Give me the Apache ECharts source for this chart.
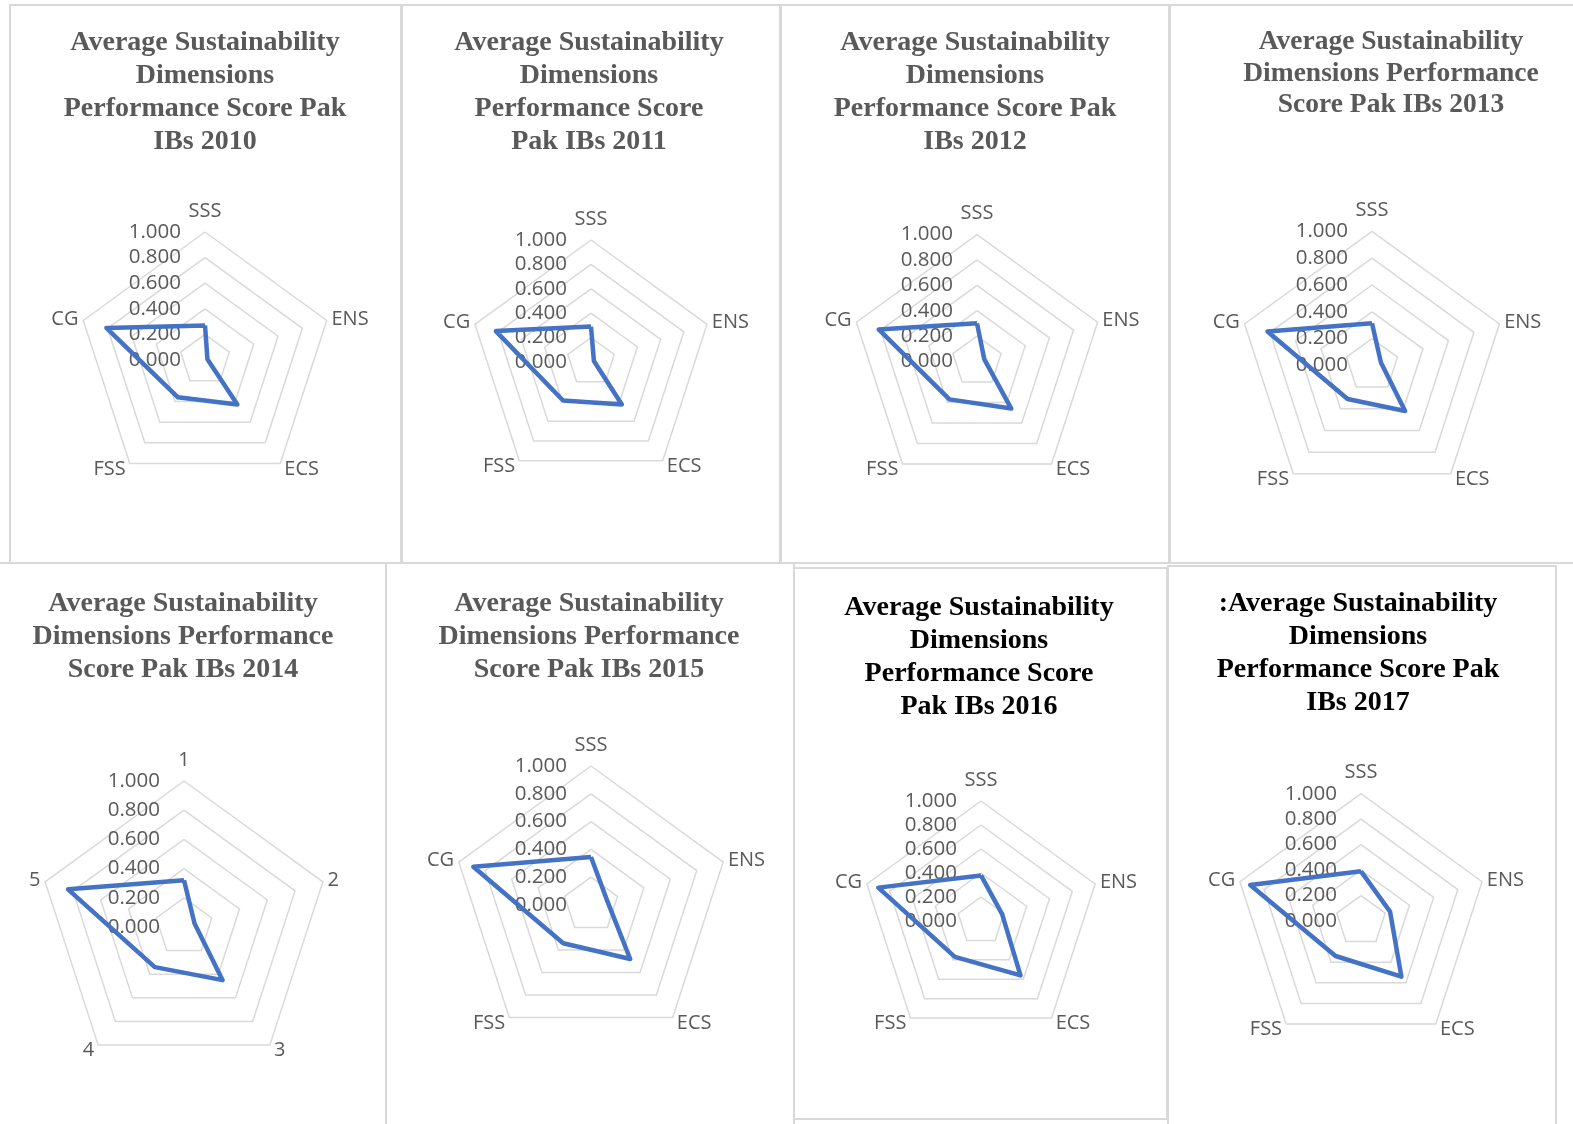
<!DOCTYPE html>
<html><head><meta charset="utf-8">
<script src="https://cdn.jsdelivr.net/npm/echarts@6/dist/echarts.min.js"></script>
<style>
html,body{margin:0;padding:0;background:#fff;width:1573px;height:1124px;overflow:hidden;position:relative}
.box{position:absolute;border:2px solid #d9d9d9;box-sizing:border-box}
.chart{position:absolute;width:400px;height:560px}
</style></head><body>
<script>
// ---- data ----
const categories = ['SSS', 'ENS', 'ECS', 'FSS', 'CG'];
const categories2014 = ['1', '2', '3', '4', '5'];
const years = ['2010', '2011', '2012', '2013', '2014', '2015', '2016', '2017'];
const tickLabels = ['0.000', '0.200', '0.400', '0.600', '0.800', '1.000'];
const titles = [
  'Average Sustainability\nDimensions\nPerformance Score Pak\nIBs 2010',
  'Average Sustainability\nDimensions\nPerformance Score\nPak IBs 2011',
  'Average Sustainability\nDimensions\nPerformance Score Pak\nIBs 2012',
  'Average Sustainability\nDimensions Performance\nScore Pak IBs 2013',
  'Average Sustainability\nDimensions Performance\nScore Pak IBs 2014',
  'Average Sustainability\nDimensions Performance\nScore Pak IBs 2015',
  'Average Sustainability\nDimensions\nPerformance Score\nPak IBs 2016',
  ':Average Sustainability\nDimensions\nPerformance Score Pak\nIBs 2017'
];
// values in order SSS, ENS, ECS, FSS, CG
const v2010 = [0.27, 0.02, 0.43, 0.36, 0.81];
const v2011 = [0.29, 0.025, 0.43, 0.39, 0.82];
const v2012 = [0.30, 0.06, 0.46, 0.37, 0.815];
const v2013 = [0.315, 0.07, 0.42, 0.31, 0.82];
const v2014 = [0.32, 0.076, 0.45, 0.34, 0.835];
const v2015 = [0.345, 0.12, 0.48, 0.34, 0.89];
const v2016 = [0.38, 0.185, 0.56, 0.37, 0.90];
const v2017 = [0.39, 0.24, 0.54, 0.34, 0.915];
const seriesValues = [v2010, v2011, v2012, v2013, v2014, v2015, v2016, v2017];

// ---- layout (positions/styles) ----
const boxes = [
  [9, 4, 393, 560], [401, 4, 380, 560], [780, 4, 390, 560], [1169, 4, 420, 560],
  [-5, 562, 392, 600], [385, 562, 410, 600], [793, 567, 375, 553], [1167, 565, 390, 600]
];
const layout = [
  {cx: 205, cy: 360, r: 128, tx: 205, ty: 43, lh: 33, fs: 28, color: '#595959'},
  {cx: 591, cy: 362, r: 122, tx: 589, ty: 43, lh: 33, fs: 28, color: '#595959'},
  {cx: 977, cy: 361.4, r: 126.8, tx: 975, ty: 43, lh: 33, fs: 28, color: '#595959'},
  {cx: 1372, cy: 365.4, r: 134, tx: 1391, ty: 42, lh: 31.5, fs: 27.5, color: '#595959'},
  {cx: 184, cy: 927, r: 146, tx: 183, ty: 603.5, lh: 33, fs: 28, color: '#595959'},
  {cx: 591, cy: 905, r: 139, tx: 589, ty: 603.5, lh: 33, fs: 28, color: '#595959'},
  {cx: 981, cy: 921, r: 120, tx: 979, ty: 607.5, lh: 33, fs: 28, color: '#000000'},
  {cx: 1361, cy: 921, r: 127.3, tx: 1358, ty: 603.5, lh: 33, fs: 28, color: '#000000'}
];

boxes.forEach(b => {
  const d = document.createElement('div');
  d.className = 'box';
  d.style.left = b[0] + 'px'; d.style.top = b[1] + 'px';
  d.style.width = b[2] + 'px'; d.style.height = b[3] + 'px';
  document.body.appendChild(d);
});

const order = [0, 4, 3, 2, 1]; // ECharts radar runs counter-clockwise
const gaps = [11, 5, 7, 7, 5];
const nameFont = {color: '#595959', fontSize: 20, fontFamily: 'Open Sans'};
const tickFont = {color: '#595959', fontSize: 20.5, fontFamily: 'Open Sans'};

layout.forEach((L, i) => {
  const top = i < 4 ? 0 : 560;
  const div = document.createElement('div');
  div.className = 'chart';
  div.style.left = (L.cx - 200) + 'px';
  div.style.top = top + 'px';
  document.body.appendChild(div);
  const chart = echarts.init(div, null, {renderer: 'canvas'});
  const names = i === 4 ? categories2014 : categories;
  const vals = seriesValues[i];
  chart.setOption({
    animation: false,
    title: {
      text: titles[i], left: 200 + (L.tx - L.cx), top: L.ty - top - L.lh / 2,
      textAlign: 'center', padding: 0,
      textStyle: {fontFamily: 'Liberation Serif', fontWeight: 'bold', fontSize: L.fs, lineHeight: L.lh, color: L.color}
    },
    radar: {
      center: [200, L.cy - top], radius: L.r, startAngle: 90, splitNumber: 5, shape: 'polygon',
      indicator: order.map((k, j) => ({name: names[k], min: 0, max: 1, nameGap: gaps[j], axisLabel: {show: j === 0}})),
      axisName: nameFont, nameGap: 6,
      axisLine: {show: false}, axisTick: {show: false},
      axisLabel: Object.assign({show: false, margin: 24, formatter: v => tickLabels[Math.round(v * 5)]}, tickFont),
      splitLine: {lineStyle: {color: '#d9d9d9', width: 1.5}},
      splitArea: {show: false}
    },
    series: [{
      type: 'radar', symbol: 'none',
      lineStyle: {color: '#4472C4', width: 4.5},
      data: [{name: years[i], value: order.map(k => vals[k])}]
    }]
  });
});
</script>
</body></html>
